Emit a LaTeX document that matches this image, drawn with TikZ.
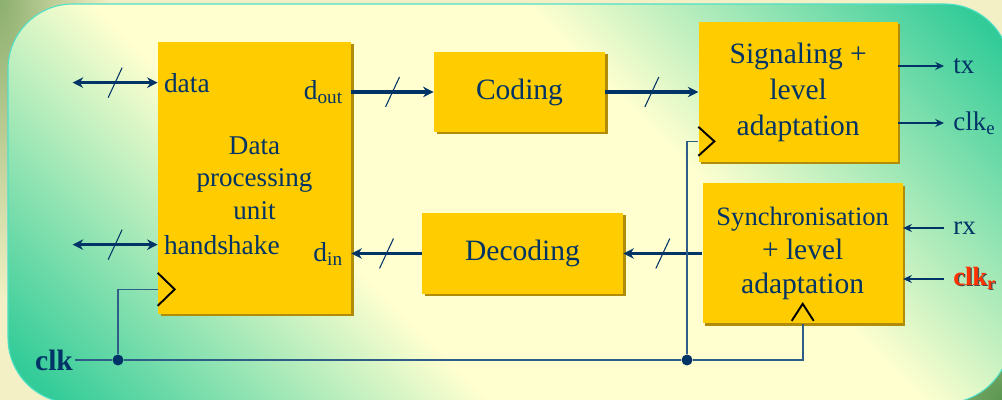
\documentclass[tikz,border=0pt]{standalone}
\usepackage{fontspec}
\setmainfont{Liberation Serif}
\usetikzlibrary{positioning,calc,arrows.meta,shadows,decorations.markings}
\definecolor{navy}{RGB}{0,51,102}
\definecolor{wireblue}{RGB}{46,94,136}
\definecolor{blockgold}{RGB}{255,204,0}
\definecolor{blockshade}{RGB}{176,140,10}
\definecolor{panelteal}{RGB}{51,204,153}
\definecolor{panelcream}{RGB}{255,255,208}
\definecolor{panelrim}{RGB}{80,224,200}
\definecolor{bgolive}{RGB}{140,175,110}
\definecolor{bgcream}{RGB}{242,240,196}
\definecolor{bgforest}{RGB}{90,150,80}
\definecolor{clkred}{RGB}{255,51,0}

% panel gradient
\pgfdeclareverticalshading{panelshade}{100bp}{color(0bp)=(panelteal); color(17bp)=(panelteal); color(39bp)=(panelcream); color(61bp)=(panelcream); color(83bp)=(panelteal); color(100bp)=(panelteal)}

% red label with a dark drop shadow
\newcommand{\dropped}[1]{\makebox[0pt][l]{\kern0.7pt\raisebox{-0.7pt}{\color{black!70}#1}}{\color{clkred}#1}}

\begin{document}
\begin{tikzpicture}[
  block/.style={
    fill=blockgold, text=navy, align=center, inner sep=2pt,
    font=\fontsize{16.8}{20.5}\selectfont,
    drop shadow={shadow xshift=0.05cm, shadow yshift=-0.05cm,
                 fill=blockshade, opacity=1}
  },
  pinlabel/.style={text=navy, inner sep=0.12cm, font=\fontsize{15.6}{18}\selectfont},
  iolabel/.style={text=navy, anchor=west, inner sep=0.18cm, font=\fontsize{15.3}{18}\selectfont},
  bus/.style={-{Stealth[length=6pt,width=6pt]}, line width=1.8pt, navy,
    postaction={decorate, decoration={markings,
      mark=at position 0.5 with {\draw[-, navy, line width=0.6pt] (-0.14,-0.3) -- (0.14,0.3);}}}},
  duplex/.style={bus, arrows={Stealth[length=6pt,width=6pt]-Stealth[length=6pt,width=6pt]}},
  wire/.style={-{Stealth[length=5pt,width=4.5pt]}, line width=0.8pt, navy},
  clkwire/.style={line width=0.9pt, wireblue},
  clkmark/.style={line width=1.1pt, black},
  junction/.style={circle, fill=navy, inner sep=0pt, minimum size=0.22cm}
]

%% ── BACKGROUND ──
\useasboundingbox (0,0) rectangle (20.04,8);
\clip (0,0) rectangle (20.04,8);
\fill[bgcream] (0,0) rectangle (20.04,8);
\shade[inner color=bgolive, outer color=bgcream] (0,8) ellipse (2.2 and 6);
\shade[inner color=bgforest, outer color=bgcream] (20.04,0) ellipse (4 and 4);
\shade[shading=panelshade, shading angle=-45, draw=panelrim, line width=0.6pt,
       rounded corners=1.3cm] (0.16,-0.06) rectangle (20.2,7.92);

%% ── BLOCKS ──
\node[block, minimum width=3.86cm, minimum height=5.44cm,
      font=\fontsize{15.4}{18.5}\selectfont] (dpu) at (5.09,4.44)
  {Data\\processing\\unit};
\node[block, minimum width=3.42cm, minimum height=1.6cm] (coding) at (10.39,6.16)
  {Coding};
\node[block, minimum width=3.98cm, minimum height=2.8cm, right=1.86cm of coding] (signaling)
  {Signaling +\\level\\adaptation};
\node[block, minimum width=4.02cm, minimum height=1.62cm] (decoding) at (10.45,2.93)
  {Decoding};
\node[block, minimum width=4cm, minimum height=2.8cm, right=1.58cm of decoding,
      font=\fontsize{16.8}{19.4}\selectfont] (sync)
  {{\fontsize{15.1}{19.4}\selectfont Synchronisation}\\+ level\\adaptation};

%% ── PIN LABELS ──
\node[pinlabel, anchor=west] (data) at ($(dpu.north west)+(0,-0.82)$) {data};
\node[pinlabel, anchor=west] (handshake) at ($(dpu.north west)+(0,-4.06)$) {handshake};
\node[pinlabel, anchor=east, inner sep=0.16cm] (dout) at (dpu.east |- coding) {d\textsubscript{out}};
\node[pinlabel, anchor=east, inner sep=0.16cm] (din) at (dpu.east |- decoding) {d\textsubscript{in}};

\node[iolabel] (tx) at ($(signaling.east)+(0.92,0.52)$) {tx};
\node[iolabel] (clke) at ($(signaling.east)+(0.92,-0.62)$) {clk\textsubscript{e}};
\node[iolabel] (rx) at ($(sync.east)+(0.82,0.51)$) {rx};
\node[iolabel, font=\fontsize{15}{17}\selectfont\bfseries] (clkr) at ($(sync.east)+(0.82,-0.51)$)
  {\dropped{clk\textsubscript{r}}};
\node[anchor=east, inner sep=1pt, text=navy, font=\fontsize{16.8}{18}\selectfont\bfseries] (clk)
  at (1.5,0.8) {clk};

%% ── DATA PATHS ──
\coordinate (dataport) at ($(data.west)+(-1.7,0)$);
\coordinate (hsport) at ($(handshake.west)+(-1.7,0)$);
\draw[duplex] (dataport) -- (data.west);
\draw[duplex] (hsport) -- (handshake.west);
\draw[bus] (dout.east) -- (coding);
\draw[bus] (coding) -- (signaling);
\draw[bus] (decoding) -- (din.east);
\draw[bus] (sync) -- (decoding);

\draw[wire] (signaling.east |- tx.west) -- (tx.west);
\draw[wire] (signaling.east |- clke.west) -- (clke.west);
\draw[wire] (rx.west) -- (sync.east |- rx.west);
\draw[wire] (clkr.west) -- (sync.east |- clkr.west);

%% ── CLOCK TREE ──
\node[junction] (j1) at (2.36,0.8) {};
\node[junction] (j2) at (13.74,0.8) {};
\coordinate (dpuclk) at ($(dpu.south west)+(0,0.5)$);
\coordinate (sigclk) at ($(signaling.south west)+(0,0.42)$);

\draw[clkwire] (clk.east) -- (j1) -- (j2) -| (sync.south);
\draw[clkwire] (j1) |- (dpuclk);
\draw[clkwire] (j2) |- (sigclk);

\draw[clkmark] ($(dpuclk)+(0,0.33)$) -- ++(0.34,-0.33) -- ++(-0.34,-0.33);
\draw[clkmark] ($(sigclk)+(0,0.29)$) -- ++(0.32,-0.29) -- ++(-0.32,-0.29);
\draw[clkmark] ($(sync.south)+(-0.22,0.06)$) -- ++(0.22,0.34) -- ++(0.22,-0.34);

\end{tikzpicture}
\end{document}
